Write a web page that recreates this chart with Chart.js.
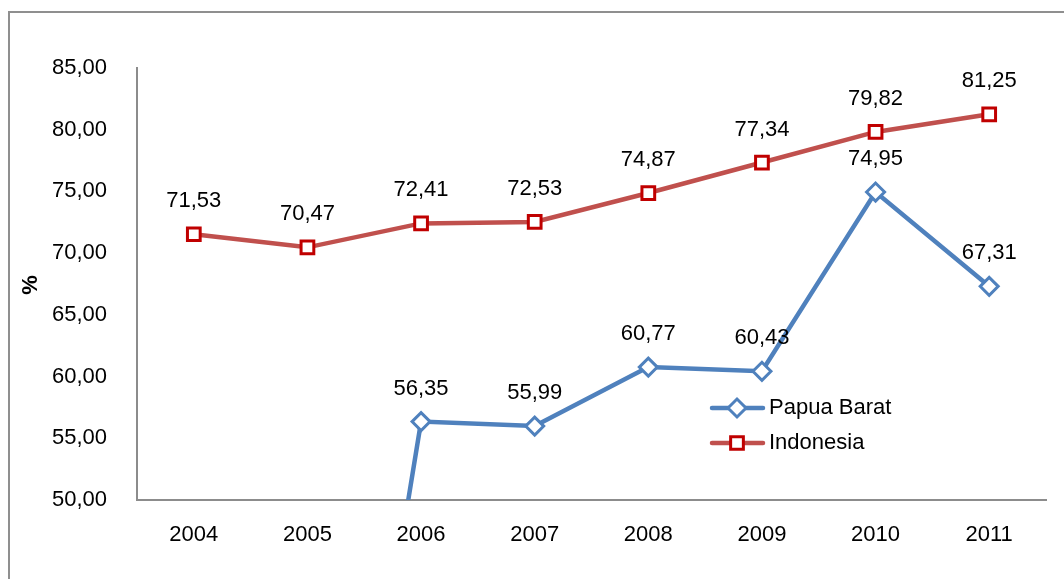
<!DOCTYPE html>
<html>
<head>
<meta charset="utf-8">
<script src="https://cdn.jsdelivr.net/npm/chart.js@4.4.1/dist/chart.umd.min.js"></script>
<style>
  html, body { margin: 0; padding: 0; background: #fff; overflow: hidden; }
  #frame { position: absolute; left: 8px; top: 11px; width: 1100px; height: 640px; border: 2px solid #8f8f8f; }
  #wrap { position: absolute; left: 0; top: 0; width: 1064px; height: 579px; }
</style>
</head>
<body>
<div id="frame"></div>
<div id="wrap"><canvas id="chart"></canvas></div>
<script>
const years = ['2004', '2005', '2006', '2007', '2008', '2009', '2010', '2011'];
// 2004/2005 for Papua Barat fall far below the axis (read as about 0)
const papuaBarat = [0, 0, 56.35, 55.99, 60.77, 60.43, 74.95, 67.31];
const indonesia = [71.53, 70.47, 72.41, 72.53, 74.87, 77.34, 79.82, 81.25];
const yTicks = [50, 55, 60, 65, 70, 75, 80, 85];

const FONT = "'Liberation Sans', Arial, sans-serif";
const FS = 22;
const blue = '#4F81BD';
const red = '#C0504D';
const darkRed = '#C00000';

function fmt(v) {
  return v.toFixed(2).replace('.', ',');
}

// value labels, legend and axis title drawn by hand
const extras = {
  id: 'extras',
  afterDatasetsDraw(chart) {
    const ctx = chart.ctx;
    const y = chart.scales.y;
    ctx.save();
    ctx.font = FS + 'px ' + FONT;
    ctx.fillStyle = '#000';
    ctx.textAlign = 'center';
    ctx.textBaseline = 'middle';
    chart.data.datasets.forEach((ds, i) => {
      const meta = chart.getDatasetMeta(i);
      meta.data.forEach((pt, j) => {
        const v = ds.data[j];
        if (v == null || v < y.min || v > y.max) return;
        ctx.fillText(fmt(v), pt.x, pt.y - 33);
      });
    });

    // legend
    const items = [
      { label: 'Papua Barat', color: blue, border: blue, style: 'rectRot', r: 9 },
      { label: 'Indonesia', color: red, border: darkRed, style: 'rect', r: 9 }
    ];
    items.forEach((it, k) => {
      const ly = 408 + k * 35;
      ctx.strokeStyle = it.color;
      ctx.lineWidth = 4.5;
      ctx.lineCap = 'round';
      ctx.beginPath();
      ctx.moveTo(712, ly);
      ctx.lineTo(763, ly);
      ctx.stroke();
      ctx.fillStyle = '#fff';
      ctx.strokeStyle = it.border;
      ctx.lineWidth = 3;
      Chart.helpers.drawPoint(ctx, { pointStyle: it.style, radius: it.r, borderWidth: 3 }, 737, ly);
      ctx.fillStyle = '#000';
      ctx.textAlign = 'left';
      ctx.fillText(it.label, 769, ly);
    });

    // y axis title
    ctx.translate(31, 285);
    ctx.rotate(-Math.PI / 2);
    ctx.textAlign = 'center';
    ctx.font = 'bold 22px ' + FONT;
    ctx.fillText('%', 0, 0);
    ctx.restore();
  }
};

new Chart(document.getElementById('chart'), {
  type: 'line',
  data: {
    labels: years,
    datasets: [
      {
        label: 'Papua Barat',
        data: papuaBarat,
        borderColor: blue,
        borderWidth: 4.5,
        pointStyle: 'rectRot',
        pointRadius: 9,
        pointBorderWidth: 3,
        pointBorderColor: blue,
        pointBackgroundColor: '#fff',
        tension: 0,
        clip: { left: false, top: false, right: false, bottom: 0 }
      },
      {
        label: 'Indonesia',
        data: indonesia,
        borderColor: red,
        borderWidth: 4.5,
        pointStyle: 'rect',
        pointRadius: 9,
        pointBorderWidth: 3,
        pointBorderColor: darkRed,
        pointBackgroundColor: '#fff',
        tension: 0,
        clip: { left: false, top: false, right: false, bottom: 0 }
      }
    ]
  },
  options: {
    responsive: true,
    maintainAspectRatio: false,
    animation: false,
    layout: { padding: { left: 0, top: 68, right: 18, bottom: 0 } },
    plugins: {
      legend: { display: false },
      tooltip: { enabled: false }
    },
    scales: {
      x: {
        offset: true,
        grid: { display: false, drawTicks: false, offset: true },
        border: { display: true, color: '#8c8c8c', width: 2 },
        ticks: { color: '#000', padding: 22, font: { family: FONT, size: FS } },
        afterFit: s => { s.height = 79; }
      },
      y: {
        min: yTicks[0],
        max: yTicks[yTicks.length - 1],
        afterBuildTicks: s => { s.ticks = yTicks.map(v => ({ value: v })); },
        grid: { display: false, drawTicks: false },
        border: { display: true, color: '#8c8c8c', width: 2 },
        ticks: { color: '#000', padding: 30, font: { family: FONT, size: FS }, callback: v => fmt(v) },
        afterFit: s => { s.width = 137; }
      }
    }
  },
  plugins: [extras]
});
</script>
</body>
</html>
